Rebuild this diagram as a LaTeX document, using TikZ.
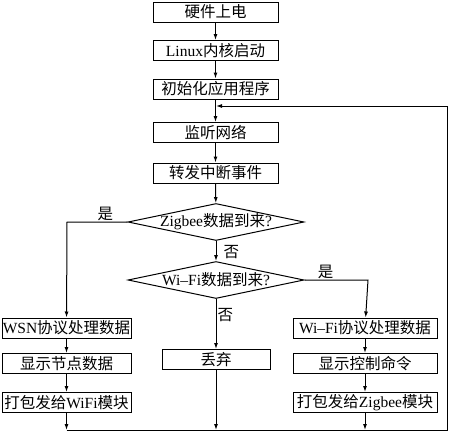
\documentclass[tikz,border=0pt]{standalone}
\usepackage{fontspec}
\setmainfont{Liberation Serif}
\newfontfamily\cjk{Noto Sans CJK SC}
\newcommand{\zh}[1]{{\cjk #1}}
\usetikzlibrary{shapes.geometric,arrows.meta}

\tikzset{
  caja/.style={draw, line width=1pt, minimum height=20pt, inner sep=0pt},
  rombo/.style={draw, line width=1pt, diamond, aspect=4.76, minimum width=176pt, minimum height=37pt, inner sep=0pt},
  flecha/.style={line width=1pt, -{Latex[length=6pt,width=4pt]}},
  linea/.style={line width=1pt},
  etiq/.style={inner sep=1pt}
}

\begin{document}
\begin{tikzpicture}[x=1pt, y=-1pt, font=\fontsize{15.5}{17}\selectfont]
    \useasboundingbox (0,0) rectangle (450,434);

    % Columna central
    \node[caja, minimum width=125pt] (hw)   at (215.5,12)  {\zh{硬件上电}};
    \node[caja, minimum width=125pt] (linux) at (215.5,50.5) {Linux\zh{内核启动}};
    \node[caja, minimum width=125pt] (init) at (215.5,89)  {\zh{初始化应用程序}};
    \node[caja, minimum width=125pt] (mon)  at (215.5,132.5) {\zh{监听网络}};
    \node[caja, minimum width=125pt] (fwd)  at (215.5,173) {\zh{转发中断事件}};

    % Decisiones
    \node[rombo] (zb) at (216,222) {\makebox[0pt]{Zigbee\zh{数据到来}?}};
    \node[rombo] (wf) at (216,280) {\makebox[0pt]{Wi--Fi\zh{数据到来}?}};

    % Rama izquierda
    \node[caja, minimum width=129pt] (wsn)  at (66.5,328) {WSN\zh{协议处理数据}};
    \node[caja, minimum width=129pt] (nodo) at (66.5,363.5) {\zh{显示节点数据}};
    \node[caja, minimum width=129pt] (envw) at (66.5,402.5) {\zh{打包发给}WiFi\zh{模块}};

    % Rama central
    \node[caja, minimum width=108pt] (desc) at (216,359.5) {\zh{丢弃}};

    % Rama derecha
    \node[caja, minimum width=144pt] (wfp)  at (365,328) {Wi--Fi\zh{协议处理数据}};
    \node[caja, minimum width=144pt] (cmd)  at (365,363.5) {\zh{显示控制命令}};
    \node[caja, minimum width=144pt] (envz) at (365,402.5) {\zh{打包发给}Zigbee\zh{模块}};

    % Puntos auxiliares
    \coordinate (union) at (216,106);
    \coordinate (izq)   at (67,222);
    \coordinate (der)   at (368,280);
    \coordinate (fin1)  at (66.5,430);
    \coordinate (fin2)  at (216,430);
    \coordinate (fin3)  at (365,430);
    \coordinate (esq1)  at (447,430);
    \coordinate (esq2)  at (447,106);

    % Flechas
    \draw[flecha] (hw) -- (linux);
    \draw[flecha] (linux) -- (init);
    \draw[flecha] (init) -- (mon);
    \draw[flecha] (mon) -- (fwd);
    \draw[flecha] (fwd) -- (zb);
    \draw[flecha] (zb) -- node[etiq, right, pos=0.55, xshift=6pt]{\zh{否}} (wf);
    \draw[flecha] (zb.west) -- node[etiq, above, pos=0.3, xshift=-4pt]{\zh{是}} (izq) -- (wsn);
    \draw[flecha] (wf.east) -- node[etiq, above, pos=0.3, xshift=2pt]{\zh{是}} (der) -- (wfp);
    \draw[flecha] (wf) -- node[etiq, right, pos=0.33]{\zh{否}} (desc);
    \draw[flecha] (wsn) -- (nodo);
    \draw[flecha] (nodo) -- (envw);
    \draw[flecha] (wfp) -- (cmd);
    \draw[flecha] (cmd) -- (envz);

    % Retorno
    \draw[flecha] (envw) -- (fin1);
    \draw[flecha] (desc) -- (fin2);
    \draw[flecha] (envz) -- (fin3);
    \draw[linea] (fin1) -- (esq1) -- (esq2);
    \draw[flecha] (esq2) -- (union);
\end{tikzpicture}
\end{document}
